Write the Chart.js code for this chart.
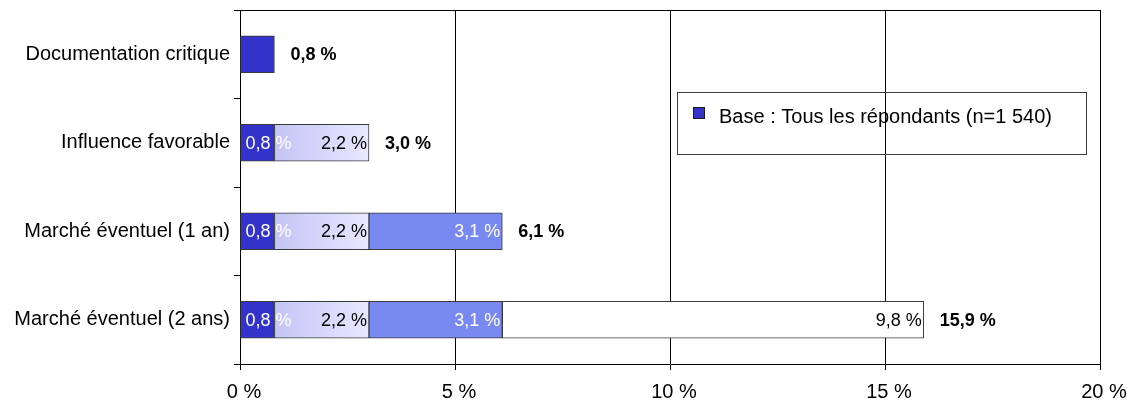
<!DOCTYPE html>
<html lang="fr">
<head>
<meta charset="utf-8">
<title>Marché éventuel</title>
<script src="https://cdn.jsdelivr.net/npm/chart.js@4.4.1/dist/chart.umd.min.js"></script>
<style>
  html, body { margin: 0; padding: 0; background: #fff; }
</style>
</head>
<body>
<canvas id="marketChart" width="1137" height="405"></canvas>
<script>
// Categories and stacked segments (percent of respondents)
const categories = ['Documentation critique', 'Influence favorable', 'Marché éventuel (1 an)', 'Marché éventuel (2 ans)'];
const critique = [0.8, 0.8, 0.8, 0.8];
const favorable = [null, 2.2, 2.2, 2.2];
const unAn = [null, null, 3.1, 3.1];
const deuxAns = [null, null, null, 9.8];
const xTicks = [0, 5, 10, 15, 20];
const baseLabel = 'Base : Tous les répondants (n=1 540)';

const FONT = '"Liberation Sans", Arial, sans-serif';
const fmt = v => v.toFixed(1).replace('.', ',') + ' %';

// light lavender fade across the "influence favorable" segment
function favorableFill(c) {
    const chart = c.chart;
    const x = chart.scales.x;
    if (!chart.chartArea || !x || c.dataIndex == null) return '#d8d8fc';
    const start = critique[c.dataIndex] || 0;
    const end = start + (favorable[c.dataIndex] || 0);
    const g = chart.ctx.createLinearGradient(x.getPixelForValue(start), 0, x.getPixelForValue(end), 0);
    g.addColorStop(0, '#c4c4f6');
    g.addColorStop(1, '#e8e8ff');
    return g;
}

const seriesList = [
    { data: critique, backgroundColor: '#3333cc', textColor: '#ffffff' },
    { data: favorable, backgroundColor: favorableFill, textColor: '#000000' },
    { data: unAn, backgroundColor: '#7889f2', textColor: '#ffffff' },
    { data: deuxAns, backgroundColor: '#ffffff', textColor: '#000000' }
];

// value labels inside each segment + bold total at the end of the bar
const valueLabels = {
    id: 'valueLabels',
    afterDatasetsDraw(chart) {
        const ctx = chart.ctx;
        const x = chart.scales.x;
        ctx.save();
        ctx.textBaseline = 'middle';
        ctx.textAlign = 'left';
        categories.forEach((cat, j) => {
            const parts = chart.data.datasets.map(ds => ds.data[j]).filter(v => v != null);
            const total = parts.reduce((a, b) => a + b, 0);
            let barY = 0;
            chart.data.datasets.forEach((ds, i) => {
                const v = ds.data[j];
                if (v == null) return;
                const bar = chart.getDatasetMeta(i).data[j];
                barY = bar.y;
                if (parts.length < 2) return;
                ctx.font = '18px ' + FONT;
                ctx.fillStyle = ds.textColor;
                const txt = fmt(v);
                const w = ctx.measureText(txt).width;
                const left = Math.min(bar.x, bar.base);
                const right = Math.max(bar.x, bar.base);
                ctx.fillText(txt, Math.max(right - w - 2, left + 5), bar.y + 1);
            });
            ctx.font = 'bold 18px ' + FONT;
            ctx.fillStyle = '#000';
            ctx.fillText(fmt(total), x.getPixelForValue(total) + 16, barY + 1);
        });
        ctx.restore();
    }
};

// plot frame top line and the "base" note box
const frameAndNote = {
    id: 'frameAndNote',
    afterDraw(chart, args, opts) {
        const ctx = chart.ctx;
        const a = chart.chartArea;
        ctx.save();
        ctx.strokeStyle = '#000';
        ctx.lineWidth = 1;
        ctx.beginPath();
        ctx.moveTo(a.left, Math.round(a.top) + 0.5);
        ctx.lineTo(a.right, Math.round(a.top) + 0.5);
        ctx.stroke();

        const b = opts.box;
        ctx.strokeStyle = '#3c3c3c';
        ctx.strokeRect(b.x + 0.5, b.y + 0.5, b.w, b.h);
        ctx.fillStyle = '#3333cc';
        ctx.fillRect(b.x + 16, b.y + 15, 12, 12);
        ctx.strokeStyle = '#1a1a1a';
        ctx.strokeRect(b.x + 16.5, b.y + 15.5, 11, 11);
        ctx.fillStyle = '#000';
        ctx.font = '20px ' + FONT;
        ctx.textBaseline = 'middle';
        ctx.fillText(baseLabel, b.x + 42, b.y + 25);
        ctx.restore();
    }
};

new Chart(document.getElementById('marketChart'), {
    type: 'bar',
    data: {
        labels: categories,
        datasets: seriesList.map(s => ({
            data: s.data,
            backgroundColor: s.backgroundColor,
            textColor: s.textColor,
            borderColor: '#3a3a3a',
            borderWidth: 1,
            borderSkipped: false,
            barThickness: 37
        }))
    },
    options: {
        indexAxis: 'y',
        responsive: false,
        animation: false,
        layout: { padding: { top: 10, right: 37, left: 0, bottom: 0 } },
        plugins: {
            legend: { display: false },
            tooltip: { enabled: false },
            frameAndNote: { box: { x: 677, y: 92, w: 409, h: 62 } }
        },
        scales: {
            x: {
                type: 'linear',
                stacked: true,
                min: 0,
                max: 20,
                afterBuildTicks: axis => { axis.ticks = xTicks.map(v => ({ value: v })); },
                afterFit: s => { s.height = 41; },
                ticks: {
                    callback: v => v + ' %',
                    color: '#000',
                    font: { family: FONT, size: 20 },
                    padding: 10,
                    labelOffset: 4
                },
                grid: { color: '#000', lineWidth: 1, tickLength: 6 },
                border: { color: '#000' }
            },
            y: {
                stacked: true,
                afterFit: s => { s.width = 240; s.paddingTop = 0; s.paddingBottom = 0; },
                ticks: {
                    color: '#000',
                    font: { family: FONT, size: 20 },
                    padding: 4
                },
                grid: { drawOnChartArea: false, color: '#000', tickLength: 6, offset: true },
                border: { color: '#000' }
            }
        }
    },
    plugins: [valueLabels, frameAndNote]
});
</script>
</body>
</html>
